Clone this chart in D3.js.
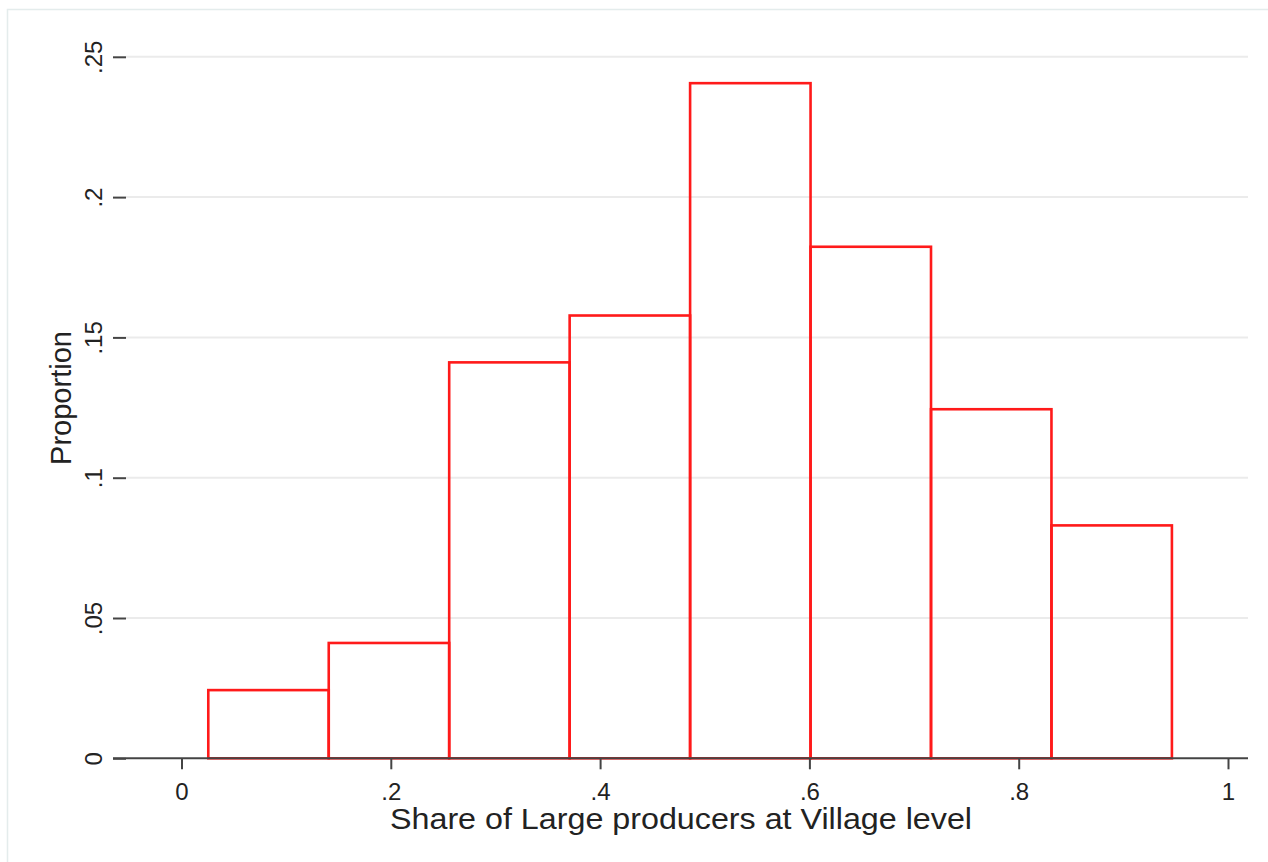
<!DOCTYPE html>
<html><head><meta charset="utf-8">
<script src="https://cdn.jsdelivr.net/npm/d3@7"></script>
<style>body{margin:0;background:#fff}svg{display:block}</style>
</head><body>
<svg id="c" width="1268" height="862"></svg>
<script>
const binStarts = [0.0256, 0.1407, 0.2558, 0.3709, 0.4860, 0.6011, 0.7162, 0.8313];
const binWidth = 0.1151;
const proportions = [0.0243, 0.0411, 0.1411, 0.1578, 0.2406, 0.1823, 0.1244, 0.0830];
const xTicks = [0, 0.2, 0.4, 0.6, 0.8, 1];
const xTickLabels = ["0", ".2", ".4", ".6", ".8", "1"];
const yTicks = [0, 0.05, 0.1, 0.15, 0.2, 0.25];
const yTickLabels = ["0", ".05", ".1", ".15", ".2", ".25"];

const svg = d3.select("#c");
const font = "Liberation Sans, Arial, sans-serif";

// outer frame
svg.append("path").attr("d","M7.5,862 V9.5 H1268").attr("fill","none").attr("stroke","#e4ecec").attr("stroke-width",1.5);

const x = d3.scaleLinear().domain([0,1]).range([181.5,1228]);
const y = d3.scaleLinear().domain([0,0.25]).range([758.3,56.8]);
const plotL = 126, plotR = 1248;

// gridlines
svg.append("g").selectAll("line").data(yTicks.slice(1)).join("line")
  .attr("x1",plotL).attr("x2",plotR).attr("y1",d=>y(d)).attr("y2",d=>y(d))
  .attr("stroke","#ebebeb").attr("stroke-width",2);

// bars
svg.append("g").selectAll("rect").data(proportions).join("rect")
  .attr("x",(d,i)=>x(binStarts[i]))
  .attr("width",(d,i)=>x(binStarts[i]+binWidth)-x(binStarts[i]))
  .attr("y",d=>y(d)).attr("height",d=>y(0)-y(d))
  .attr("fill","none").attr("stroke","#ff1a1a").attr("stroke-width",2.6);

// x axis
const xa = svg.append("g").attr("transform",`translate(0,${y(0)})`)
  .call(d3.axisBottom(x).tickValues(xTicks).tickFormat((d,i)=>xTickLabels[i]).tickSize(11).tickSizeOuter(0));
xa.select(".domain").remove();
xa.append("line").attr("x1",plotL-13).attr("x2",plotR).attr("stroke","#444").attr("stroke-width",2);
xa.selectAll(".tick line").attr("stroke","#444").attr("stroke-width",2);
xa.selectAll(".tick text").attr("fill","#222").attr("font-family",font).attr("font-size",24).attr("dy","1.15em");

// y axis
const ya = svg.append("g").attr("transform",`translate(${plotL},0)`)
  .call(d3.axisLeft(y).tickValues(yTicks).tickFormat((d,i)=>yTickLabels[i]).tickSize(13).tickSizeOuter(0));
ya.select(".domain").remove();
ya.selectAll(".tick line").attr("stroke","#444").attr("stroke-width",2);
ya.selectAll(".tick text").attr("fill","#222").attr("font-family",font).attr("font-size",24)
  .attr("x",0).attr("dy",0).attr("text-anchor","middle")
  .attr("transform","translate(-24,0) rotate(-90)");

// titles
svg.append("text").attr("x",681).attr("y",829).attr("text-anchor","middle")
  .attr("font-family",font).attr("font-size",29).attr("fill","#222")
  .attr("textLength",582).attr("lengthAdjust","spacingAndGlyphs")
  .text("Share of Large producers at Village level");
svg.append("text").attr("transform","translate(71,398) rotate(-90)").attr("text-anchor","middle")
  .attr("font-family",font).attr("font-size",29).attr("fill","#222")
  .text("Proportion");
</script>
</body></html>
